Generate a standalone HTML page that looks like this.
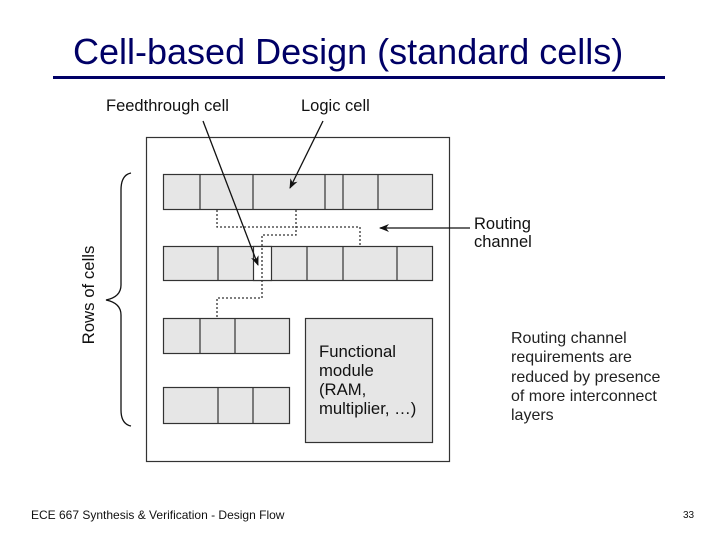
<!DOCTYPE html>
<html><head><meta charset="utf-8"><style>
html,body{margin:0;padding:0;background:#fff;}
svg{display:block;}
</style></head><body>
<svg width="720" height="540" viewBox="0 0 720 540" xmlns="http://www.w3.org/2000/svg" font-family="Liberation Sans, Arial, sans-serif">
<defs>
<marker id="ah" markerWidth="10" markerHeight="8" refX="9" refY="4" orient="auto" markerUnits="userSpaceOnUse">
<path d="M0,0 L10,4 L0,8 L3,4 z" fill="#111"/>
</marker>
</defs>
<text x="73" y="64" font-size="36" fill="#000066">Cell-based Design (standard cells)</text>
<rect x="53" y="76" width="612" height="3" fill="#000066"/>
<text x="106" y="111" font-size="16.5" fill="#111">Feedthrough cell</text>
<text x="301" y="111" font-size="16.5" fill="#111">Logic cell</text>

<rect x="146.5" y="137.5" width="303" height="324" fill="#fff" stroke="#333" stroke-width="1.2"/>
<g fill="#e6e6e6" stroke="#333" stroke-width="1.2">
<rect x="163.5" y="174.5" width="269" height="35"/>
<rect x="163.5" y="246.5" width="269" height="34"/>
<rect x="253.5" y="246.5" width="18" height="34" fill="#fff"/>
<rect x="163.5" y="318.5" width="126" height="35"/>
<rect x="163.5" y="387.5" width="126" height="36"/>
<rect x="305.5" y="318.5" width="127" height="124"/>
</g>
<g stroke="#333" stroke-width="1.2">
<line x1="200" y1="174" x2="200" y2="209"/><line x1="253" y1="174" x2="253" y2="209"/>
<line x1="325" y1="174" x2="325" y2="209"/><line x1="343" y1="174" x2="343" y2="209"/>
<line x1="378" y1="174" x2="378" y2="209"/>
<line x1="218" y1="246" x2="218" y2="280"/><line x1="307" y1="246" x2="307" y2="280"/>
<line x1="343" y1="246" x2="343" y2="280"/><line x1="397" y1="246" x2="397" y2="280"/>
<line x1="200" y1="318" x2="200" y2="353"/><line x1="235" y1="318" x2="235" y2="353"/>
<line x1="218" y1="387" x2="218" y2="423"/><line x1="253" y1="387" x2="253" y2="423"/>
</g>
<g fill="none" stroke="#333" stroke-width="1.3" stroke-dasharray="2,2">
<polyline points="217,210 217,227 360,227 360,246"/>
<polyline points="296,210 296,235 262,235 262,298 217,298 217,318"/>
</g>
<g stroke="#111" stroke-width="1.3" fill="none">
<line x1="203" y1="121" x2="258" y2="265" marker-end="url(#ah)"/>
<line x1="323" y1="121" x2="290" y2="188" marker-end="url(#ah)"/>
<line x1="470" y1="228" x2="380" y2="228" marker-end="url(#ah)"/>
<path d="M131,173 Q121,175 121,190 L121,285 Q121,297 106,300 Q121,303 121,315 L121,410 Q121,424 131,426"/>
</g>
<text transform="translate(94,295) rotate(-90)" text-anchor="middle" font-size="16.8" fill="#111">Rows of cells</text>
<text x="474" y="229" font-size="16.5" fill="#111">Routing</text>
<text x="474" y="247" font-size="16.5" fill="#111">channel</text>
<g font-size="16.7" fill="#111">
<text x="319" y="357">Functional</text>
<text x="319" y="376">module</text>
<text x="319" y="395">(RAM,</text>
<text x="319" y="414">multiplier, …)</text>
</g>
<g font-size="16" fill="#222">
<text x="511" y="343">Routing channel</text>
<text x="511" y="362">requirements are</text>
<text x="511" y="382">reduced by presence</text>
<text x="511" y="401">of more interconnect</text>
<text x="511" y="420">layers</text>
</g>
<text x="31" y="519" font-size="12" fill="#111">ECE 667 Synthesis &amp; Verification - Design Flow</text>
<text x="683" y="518" font-size="10" fill="#111">33</text>
</svg>
</body></html>
